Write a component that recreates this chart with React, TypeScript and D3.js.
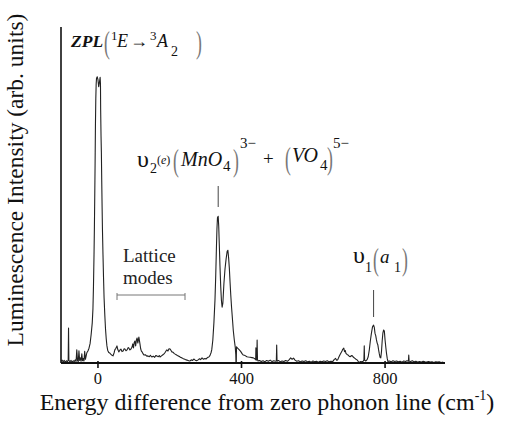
import React from "react";
import * as d3 from "d3";

// ---- data: [energy difference (cm^-1), intensity (arb. units)] ----
const preZpl: [number, number][] = [
  [-103,0.6],[-100,1.0],[-97,0.4],[-94,0.9],[-91,0.3],[-88,0.8],[-85,0.4],[-83,1.0],[-82,12.3],[-81,0.9],[-78,0.4],[-75,0.9],[-72,0.3],[-69,0.8],[-66,0.5],[-63,1.1],[-61,0.5],[-59,4.6],[-57,0.9],[-55,0.4],[-53,4.3],[-51,0.9],[-49,1.8],[-47,0.6],[-45,3.2],[-43,0.8],[-41,1.6],[-39,0.7],[-37,4.1],[-35,1.3],[-33,2.4],[-31,3.6],
];
const zplPeak: [number, number][] = [
  [-28,4.2],[-25,5.2],[-22,6.8],[-19,10],[-16,14],[-14,19],[-12.5,27],[-11,38],[-10,47],[-9,58],[-8,70],[-7,84],[-6,93],[-5,98],[-4,100],[-2,100.5],[0,99.5],[2,97],[4,98.5],[6,100.3],[7,98],[7.5,89],[8.5,80],[9.5,74],[10.5,64],[11.5,55],[12.5,47],[14,38],[15.5,30],[17,23],[19,17],[21,12],[23,8.5],[25,6],[27,4.5],[30,3.7],
];
const latticeModes: [number, number][] = [
  [33,3.5],[37,2.9],[42,2.5],[45,3.6],[47,4.6],[50,5.2],[53,6.0],[55,4.8],[58,3.9],[61,4.5],[64,4.9],[67,4.0],[70,4.2],[73,5.0],[75,4.9],[78,4.3],[81,4.6],[84,5.4],[86,5.3],[89,4.6],[92,4.9],[95,5.6],[97,6.7],[99,5.3],[101,7.2],[103,7.7],[105,6.0],[107,8.0],[109,8.8],[111,7.0],[113,8.4],[114,9.1],[116,7.5],[117,6.7],[119,5.0],[121,4.2],[123,3.9],[126,3.2],[128,2.8],[132,2.9],[136,2.4],[139,2.5],[143,2.2],[146,2.7],[150,2.1],[154,2.4],[158,2.0],[161,2.6],[164,2.5],[168,2.2],[171,2.6],[173,2.1],[177,2.5],[181,2.9],[184,3.2],[187,3.7],[190,4.3],[192,4.6],[195,4.2],[198,5.0],[201,4.9],[204,4.3],[206,3.9],[209,3.8],[212,3.4],[214,3.2],[218,2.9],[223,2.5],[227,2.3],[231,1.9],[234,1.8],[238,1.5],[242,1.3],[245,1.1],[249,1.0],[253,0.8],[256,0.7],[260,1.1],[264,0.9],[267,1.4],[271,1.0],[275,0.8],[279,1.1],[283,1.5],[286,1.2],[290,1.8],[294,1.3],[298,1.6],[301,1.4],[305,1.9],[309,2.1],[312,2.6],[315,3.6],
];
const nu2Peak: [number, number][] = [
  [317,4.6],[320,8],[323,14],[326,22],[328,30],[330,40],[331.5,47],[333,51],[335,51.5],[336.5,48],[338,42],[340,34],[342,27],[344,22],[346,19.6],[348,21],[351,28],[354,33],[357,36.5],[360,39.2],[362,39.6],[364,37],[366,33.5],[368,28.5],[370,24],[372,20],[375,15],[377,11.5],[380,8],[382.5,5.6],[384,3.0],[384.5,0.3],[385.5,0.3],[386,5.7],[389,5.2],[394,4.6],[398,4.0],[402,3.2],[405,2.8],[410,2.6],[415,2.2],[419,2.1],[424,2.0],[429,1.9],[433,1.8],[437,1.5],[439.5,1.2],[440,5.3],[441,1.0],[442.5,1.2],[443.5,8.1],[444.5,1.2],[446,0.7],
];
const midBaseline: [number, number][] = [
  [450,0.9],[455,0.5],[460,0.8],[465,0.4],[470,0.9],[475,0.6],[480,1.0],[485,0.5],[490,0.8],[495,0.6],[497,0.7],[498,6.3],[499,0.6],[503,0.9],[508,0.4],[513,0.7],[518,0.5],[523,0.9],[528,0.6],[533,1.2],[537,1.8],[541,1.3],[545,1.7],[549,1.0],[554,0.6],[559,0.8],[564,0.4],[569,0.7],[574,0.5],[579,0.8],[584,0.4],[589,0.6],[594,0.3],[599,0.7],[604,0.4],[609,0.6],[614,0.3],[619,0.6],[624,0.4],[629,0.7],[634,0.5],[639,0.8],[644,0.4],[649,0.6],[654,0.5],
];
const nu1Region: [number, number][] = [
  [658,1.2],[662,1.6],[665,1.0],[668,1.1],[671,2.0],[674,2.8],[677,3.5],[680,4.2],[682,4.8],[685,5.2],[687,4.0],[689,4.4],[691,3.4],[694,3.0],[697,2.8],[700,2.4],[703,2.2],[706,2.6],[709,2.5],[712,2.0],[716,1.6],[719,1.3],[722,1.1],[725,0.6],[728,0.2],[732,0.5],[736,0.4],[739,0.6],[741,1.0],[742,6.0],[743,1.0],[746,0.7],[750,1.2],[753,2.2],[756,4.5],[759,7.8],[762,10.5],[765,12.7],[768,13.3],[770,12.5],[772,10.4],[774,9.6],[776,8.1],[778,7.0],[780,6.3],[782,4.6],[784,3.2],[786,2.0],[788,1.8],[790,4.0],[792,7.8],[794,10.6],[796,11.6],[798,11.2],[800,8.1],[802,5.6],[804,3.4],[806,1.6],[808,0.5],[812,0.7],[817,0.4],[822,0.8],[827,0.5],[832,0.7],[837,0.4],[842,0.6],[847,0.3],[852,0.7],[857,0.5],[861,0.8],[865,0.6],[866,2.8],[867,0.6],[871,0.5],[876,0.8],[881,0.4],[886,0.6],[891,0.3],[896,0.5],[901,0.3],[906,0.6],[911,0.4],[916,0.3],[921,0.5],[926,0.3],[931,0.4],[936,0.2],[941,0.4],[946,0.3],[951,0.4],[956,0.2],[962,0.3],
];
const xTicks = [0, 400, 800];
const xTickLabels = ["0", "400", "800"];
const xDomain: [number, number] = [-103, 967];
const yDomain: [number, number] = [0, 118];

const SERIF = "'Liberation Serif', 'Times New Roman', serif";

const BigParen = ({ x, y, ch, size = 32 }: { x: number; y: number; ch: string; size?: number }) => (
  <text
    x={0}
    y={0}
    transform={`translate(${x},${y}) scale(0.55,1)`}
    fontSize={size}
    fill="#777"
    fontFamily={SERIF}
  >
    {ch}
  </text>
);

export default function App() {
  const W = 519, H = 431;
  const x = d3.scaleLinear().domain(xDomain).range([61, 445]);
  const y = d3.scaleLinear().domain(yDomain).range([363, 27]);
  const data = [...preZpl, ...zplPeak, ...latticeModes, ...nu2Peak, ...midBaseline, ...nu1Region];
  const line = d3
    .line<[number, number]>()
    .x((d) => x(d[0]))
    .y((d) => y(d[1]));

  return (
    <svg width={W} height={H} style={{ position: "absolute", left: 0, top: 0, background: "#fff" }} fontFamily={SERIF}>
      <rect width={W} height={H} fill="#fff" />
      {/* spectrum */}
      <path d={line(data) || ""} fill="none" stroke="#222" strokeWidth={1.1} strokeLinejoin="round" />
      {/* axes */}
      <line x1={x(xDomain[0])} x2={x(xDomain[0])} y1={y(yDomain[1])} y2={y(0)} stroke="#111" strokeWidth={1.6} />
      <line x1={x(xDomain[0])} x2={x(xDomain[1])} y1={y(0)} y2={y(0)} stroke="#111" strokeWidth={2} />
      {xTicks.map((t, i) => (
        <g key={t}>
          <line x1={x(t)} x2={x(t)} y1={y(0) - 2} y2={y(0) + 5} stroke="#111" strokeWidth={1.6} />
          <text x={x(t)} y={383.5} textAnchor="middle" fontSize={16.5} fill="#111">
            {xTickLabels[i]}
          </text>
        </g>
      ))}
      <text x={267} y={410} textAnchor="middle" fontSize={24} fill="#111">
        Energy difference from zero phonon line (cm
        <tspan fontSize={14} dy={-10}>-1</tspan>
        <tspan dy={10}>)</tspan>
      </text>
      <text transform={`translate(23,180) rotate(-90)`} textAnchor="middle" fontSize={23.5} fill="#111">
        Luminescence Intensity (arb. units)
      </text>

      {/* ZPL label */}
      <text x={71} y={47} fontSize={17.5} fontWeight="bold" fontStyle="italic" fill="#111">ZPL</text>
      <BigParen x={104} y={53} ch="(" />
      <text x={111} y={40} fontSize={13} fill="#111">1</text>
      <text x={117} y={47} fontSize={18} fontStyle="italic" fill="#111">E</text>
      <text x={130} y={47} fontSize={18} fill="#111">→</text>
      <text x={150} y={40} fontSize={13} fill="#111">3</text>
      <text x={157} y={47} fontSize={18} fontStyle="italic" fill="#111">A</text>
      <text x={171} y={56} fontSize={14} fill="#111">2</text>
      <BigParen x={196} y={53} ch=")" />

      {/* nu2 label */}
      <text x={137} y={167} fontSize={24} fill="#111">υ</text>
      <text x={150} y={173} fontSize={14} fill="#111">2</text>
      <text x={157} y={164} fontSize={12} fill="#111">(<tspan fontStyle="italic">e</tspan>)</text>
      <BigParen x={173} y={171} ch="(" />
      <text x={181} y={166} fontSize={20} fontStyle="italic" fill="#111">MnO</text>
      <text x={223} y={171} fontSize={15} fill="#111">4</text>
      <BigParen x={233} y={171} ch=")" />
      <text x={240} y={148} fontSize={15} fill="#111">3−</text>
      <text x={263} y={165} fontSize={19} fill="#111">+</text>
      <BigParen x={285} y={169} ch="(" />
      <text x={292} y={162} fontSize={20} fontStyle="italic" fill="#111">VO</text>
      <text x={320} y={170} fontSize={15} fill="#111">4</text>
      <BigParen x={327} y={169} ch=")" />
      <text x={333} y={148} fontSize={15} fill="#111">5−</text>
      <line x1={x(335)} x2={x(335)} y1={186} y2={207} stroke="#444" strokeWidth={1} />

      {/* lattice modes */}
      <text x={123} y={262} fontSize={19} fill="#222">Lattice</text>
      <text x={123} y={284} fontSize={19} fill="#222">modes</text>
      <line x1={117} x2={185} y1={295} y2={295} stroke="#777" strokeWidth={1} />
      <line x1={117} x2={117} y1={293} y2={300} stroke="#777" strokeWidth={1} />
      <line x1={185} x2={185} y1={293} y2={300} stroke="#777" strokeWidth={1} />

      {/* nu1 label */}
      <text x={353} y={263} fontSize={24} fill="#111">υ</text>
      <text x={365} y={272} fontSize={14} fill="#111">1</text>
      <BigParen x={373} y={270} ch="(" />
      <text x={380} y={263} fontSize={19} fontStyle="italic" fill="#111">a</text>
      <text x={394} y={272} fontSize={14} fill="#111">1</text>
      <BigParen x={402} y={270} ch=")" />
      <line x1={x(768)} x2={x(768)} y1={290} y2={317} stroke="#444" strokeWidth={1} />
    </svg>
  );
}
